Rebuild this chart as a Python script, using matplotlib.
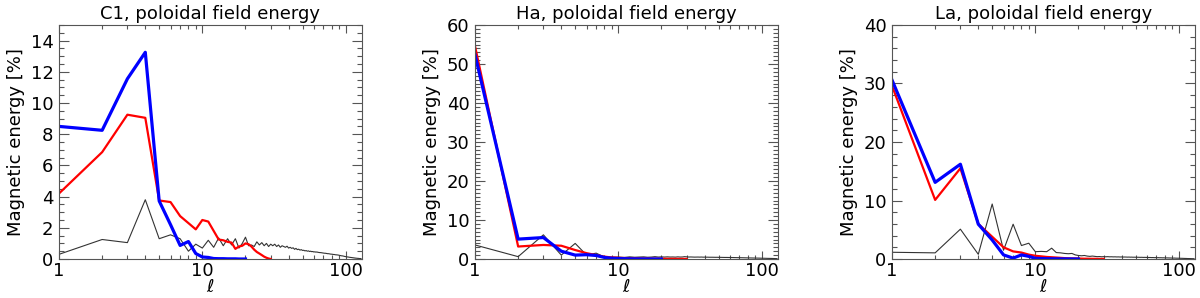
import matplotlib
matplotlib.use('Agg')
import matplotlib.pyplot as plt
from matplotlib.ticker import MultipleLocator, FixedLocator, NullFormatter

# degree l for each series
degreesBlack = list(range(1, 129))
degreesRed = list(range(1, 31))
degreesBlue = list(range(1, 21))

titles = ['C1, poloidal field energy', 'Ha, poloidal field energy',
          'La, poloidal field energy']

# C1
c1Black = [0.3, 1.25, 1.05, 3.8, 1.3, 1.55, 1.3, 0.5, 0.95, 0.7,
           1.2, 0.75, 1.35, 0.85, 1.3, 0.9, 1.3, 0.7, 1.0, 1.4,
           0.85, 0.9, 0.8, 1.1, 0.9, 1.05, 0.85, 1.0, 0.8, 0.95,
           0.85, 0.95, 0.8, 0.9, 0.75, 0.85, 0.8, 0.75, 0.82, 0.7,
           0.75, 0.68, 0.72, 0.62, 0.68, 0.6, 0.63, 0.57, 0.6, 0.55,
           0.56, 0.52, 0.54, 0.5, 0.52, 0.48, 0.5, 0.47, 0.48, 0.45,
           0.46, 0.44, 0.45, 0.43, 0.42, 0.41, 0.41, 0.4, 0.39, 0.38,
           0.37, 0.37, 0.36, 0.35, 0.34, 0.34, 0.33, 0.32, 0.31, 0.31,
           0.3, 0.29, 0.29, 0.28, 0.27, 0.27, 0.26, 0.26, 0.25, 0.24,
           0.23, 0.22, 0.21, 0.2, 0.2, 0.19, 0.18, 0.17, 0.16, 0.15,
           0.15, 0.14, 0.13, 0.13, 0.12, 0.11, 0.11, 0.1, 0.1, 0.09,
           0.09, 0.08, 0.08, 0.07, 0.07, 0.06, 0.06, 0.05, 0.05, 0.05,
           0.04, 0.04, 0.04, 0.03, 0.03, 0.03, 0.03, 0.02]
c1Red = [4.2, 6.85, 9.25, 9.05, 3.75, 3.65, 2.75, 2.3, 1.9, 2.5,
         2.4, 1.8, 1.25, 1.2, 1.1, 1.05, 0.65, 0.8, 0.85, 1.0,
         0.95, 0.8, 0.6, 0.45, 0.35, 0.25, 0.15, 0.08, 0.03, 0.0]
c1Blue = [8.5, 8.25, 11.55, 13.25, 3.72, 2.2, 0.87, 1.12, 0.35, 0.13,
          0.1, 0.03, 0.02, 0.02, 0.01, 0.01, 0.01, 0.0, 0.0, 0.0]

# Ha
haBlack = [3.6, 0.6, 6.2, 1.0, 4.0, 1.0, 1.5, 0.5, 0.45, 0.5,
           0.4, 0.55, 0.45, 0.5, 0.55, 0.45, 0.5, 0.6, 0.5, 0.55,
           0.5, 0.55, 0.5, 0.52, 0.48, 0.55, 0.5, 0.52, 0.6, 0.55,
           0.5, 0.52, 0.5, 0.48, 0.5, 0.5, 0.48, 0.5, 0.47, 0.48,
           0.46, 0.47, 0.45, 0.46, 0.45, 0.44, 0.45, 0.43, 0.44, 0.42,
           0.43, 0.42, 0.41, 0.42, 0.4, 0.41, 0.4, 0.39, 0.4, 0.38,
           0.39, 0.38, 0.37, 0.37, 0.36, 0.36, 0.35, 0.35, 0.34, 0.34,
           0.33, 0.33, 0.32, 0.32, 0.31, 0.31, 0.3, 0.3, 0.29, 0.29,
           0.28, 0.28, 0.27, 0.27, 0.26, 0.26, 0.25, 0.25, 0.25, 0.24,
           0.24, 0.23, 0.23, 0.22, 0.22, 0.22, 0.21, 0.21, 0.2, 0.2,
           0.2, 0.19, 0.19, 0.18, 0.18, 0.18, 0.17, 0.17, 0.17, 0.16,
           0.16, 0.16, 0.15, 0.15, 0.15, 0.14, 0.14, 0.14, 0.13, 0.13,
           0.13, 0.12, 0.12, 0.12, 0.11, 0.11, 0.11, 0.1]
haRed = [54.6, 3.2, 3.6, 3.4, 2.3, 1.5, 1.0, 0.6, 0.4, 0.3,
         0.25, 0.2, 0.18, 0.15, 0.12, 0.1, 0.1, 0.08, 0.07, 0.06,
         0.05, 0.05, 0.04, 0.04, 0.03, 0.03, 0.02, 0.02, 0.01, 0.0]
haBlue = [52.4, 5.1, 5.5, 2.0, 1.0, 1.1, 0.9, 0.4, 0.2, 0.1,
          0.08, 0.05, 0.04, 0.03, 0.02, 0.02, 0.01, 0.01, 0.0, 0.0]

# La
laBlack = [1.15, 1.05, 5.1, 0.8, 9.4, 1.5, 5.95, 2.3, 2.7, 1.25,
           1.3, 1.25, 1.85, 1.1, 1.05, 0.95, 0.9, 0.95, 0.7, 0.6,
           0.55, 0.6, 0.5, 0.45, 0.5, 0.45, 0.4, 0.42, 0.38, 0.4,
           0.38, 0.4, 0.37, 0.38, 0.36, 0.37, 0.35, 0.36, 0.34, 0.35,
           0.33, 0.34, 0.33, 0.32, 0.33, 0.31, 0.32, 0.3, 0.31, 0.3,
           0.29, 0.3, 0.29, 0.28, 0.29, 0.28, 0.27, 0.28, 0.27, 0.26,
           0.26, 0.25, 0.26, 0.25, 0.24, 0.25, 0.24, 0.23, 0.24, 0.23,
           0.22, 0.23, 0.22, 0.21, 0.22, 0.21, 0.2, 0.21, 0.2, 0.19,
           0.2, 0.19, 0.18, 0.19, 0.18, 0.17, 0.18, 0.17, 0.16, 0.17,
           0.16, 0.15, 0.16, 0.15, 0.15, 0.14, 0.14, 0.14, 0.13, 0.13,
           0.13, 0.12, 0.12, 0.12, 0.11, 0.11, 0.11, 0.1, 0.1, 0.1,
           0.09, 0.09, 0.09, 0.08, 0.08, 0.08, 0.08, 0.07, 0.07, 0.07,
           0.07, 0.06, 0.06, 0.06, 0.06, 0.05, 0.05, 0.05]
laRed = [29.6, 10.1, 15.5, 6.0, 3.8, 2.0, 1.3, 1.1, 0.75, 0.55,
         0.45, 0.35, 0.3, 0.25, 0.2, 0.15, 0.12, 0.1, 0.1, 0.08,
         0.06, 0.05, 0.05, 0.04, 0.03, 0.03, 0.02, 0.01, 0.01, 0.0]
laBlue = [30.6, 13.1, 16.2, 5.95, 3.25, 0.7, 0.15, 0.7, 0.45, 0.12,
          0.08, 0.05, 0.04, 0.03, 0.02, 0.02, 0.01, 0.01, 0.0, 0.0]

yLimits = [15, 60, 40]
yMajorSteps = [2, 10, 10]
yMinorSteps = [0.5, 1, 2]
panelLefts = [59, 475, 892]

plt.rcParams['font.family'] = 'DejaVu Sans'
plt.rcParams['font.size'] = 13


def plotPanel(ax, title, black, red, blue, ymax, ymajor, yminor):
    ax.plot(degreesBlack, black, color='#333333', linewidth=0.8)
    ax.plot(degreesRed, red, color='#ff0000', linewidth=1.6)
    ax.plot(degreesBlue, blue, color='#0000ff', linewidth=2.3)
    ax.set_xscale('log')
    ax.set_xlim(1, 130)
    ax.set_ylim(0, ymax)
    ax.xaxis.set_major_locator(FixedLocator([1, 10, 100]))
    ax.set_xticklabels(['1', '10', '100'])
    ax.xaxis.set_minor_locator(FixedLocator(
        [2, 3, 4, 5, 6, 7, 8, 9, 20, 30, 40, 50, 60, 70, 80, 90]))
    ax.xaxis.set_minor_formatter(NullFormatter())
    ax.yaxis.set_major_locator(MultipleLocator(ymajor))
    ax.yaxis.set_minor_locator(MultipleLocator(yminor))
    ax.tick_params(axis='both', which='both', direction='in',
                   top=True, right=True, color='#555555', width=0.8)
    ax.tick_params(axis='x', which='major', length=5.5, pad=2)
    ax.tick_params(axis='x', which='minor', length=3)
    ax.tick_params(axis='y', which='major', length=7, pad=4)
    ax.tick_params(axis='y', which='minor', length=3.5)
    for spine in ax.spines.values():
        spine.set_color('#555555')
        spine.set_linewidth(0.8)
    ax.set_title(title, fontsize=13, pad=4)
    ax.set_ylabel('Magnetic energy [%]', fontsize=13)
    ax.set_xlabel(r'$\ell$', fontsize=13, labelpad=-1)


fig = plt.figure(figsize=(12, 2.98), dpi=100)
allBlack = [c1Black, haBlack, laBlack]
allRed = [c1Red, haRed, laRed]
allBlue = [c1Blue, haBlue, laBlue]
for i in range(3):
    ax = fig.add_axes([panelLefts[i] / 1200, 39 / 298, 303 / 1200, 234 / 298])
    plotPanel(ax, titles[i], allBlack[i], allRed[i], allBlue[i],
              yLimits[i], yMajorSteps[i], yMinorSteps[i])

fig.savefig('out.png', dpi=100)
